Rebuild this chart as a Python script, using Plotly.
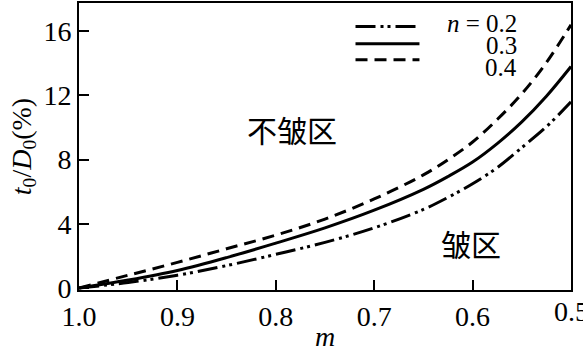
import plotly.graph_objects as go

m_vals = [1.0, 0.95, 0.9, 0.85, 0.8, 0.75, 0.7, 0.65, 0.625, 0.6, 0.575, 0.55, 0.525, 0.5]
t_n02 = [0.0, 0.35, 0.8, 1.4, 2.1, 2.85, 3.75, 4.9, 5.65, 6.5, 7.5, 8.75, 10.05, 11.6]
t_n03 = [0.0, 0.5, 1.1, 1.9, 2.8, 3.75, 4.85, 6.15, 6.95, 7.85, 9.0, 10.35, 11.95, 13.8]
t_n04 = [0.0, 0.8, 1.6, 2.45, 3.3, 4.3, 5.55, 7.05, 8.0, 9.1, 10.5, 12.1, 14.05, 16.4]
n_labels = ["<i>n</i> = 0.2", "0.3", "0.4"]
y_ticks = [0, 4, 8, 12, 16]
x_ticks = [1.0, 0.9, 0.8, 0.7, 0.6, 0.5]
x_ticktext = ["1.0", "0.9", "0.8", "0.7", "0.6", ""]

FONT = "Liberation Serif"
CJK = "Noto Sans CJK SC"
FS = 28
dashes = ["20px,5px,3px,4px,3px,5px", "solid", "12px,7px"]
series = [t_n02, t_n03, t_n04]

fig = go.Figure()
for ys, d in zip(series, dashes):
    fig.add_trace(go.Scatter(x=m_vals, y=ys, mode="lines", line_shape="spline",
                             line=dict(color="black", width=3, dash=d),
                             showlegend=False, hoverinfo="skip"))

# legend (drawn to match reference layout)
leg_y = [0.918, 0.858, 0.802]
for yy, d in zip(leg_y, dashes):
    fig.add_shape(type="line", xref="paper", yref="paper",
                  x0=0.562, x1=0.692, y0=yy, y1=yy,
                  line=dict(color="black", width=3, dash=d))
txt_y = [0.93, 0.852, 0.774]
for yy, t in zip(txt_y, n_labels):
    fig.add_annotation(x=0.895, y=yy, xref="paper", yref="paper", text=t,
                       showarrow=False, xanchor="right", yanchor="middle",
                       font=dict(family=FONT, size=25, color="black"))

fig.add_annotation(x=0.432, y=0.56, xref="paper", yref="paper", text="不皱区",
                   showarrow=False, xanchor="center", yanchor="middle",
                   font=dict(family=CJK, size=30, color="black"))
fig.add_annotation(x=0.796, y=0.165, xref="paper", yref="paper", text="皱区",
                   showarrow=False, xanchor="center", yanchor="middle",
                   font=dict(family=CJK, size=30, color="black"))
# last x tick label, placed so it is clipped by the page edge as in the reference
fig.add_annotation(x=0.5, y=0, xref="x", yref="paper", text="0.5", yshift=-4,
                   showarrow=False, xanchor="center", yanchor="top",
                   font=dict(family=FONT, size=FS, color="black"))

tickfont = dict(family=FONT, size=FS, color="black")
fig.update_layout(
    width=583, height=352,
    margin=dict(l=79, r=12, t=1, b=58),
    plot_bgcolor="white", paper_bgcolor="white",
    font=dict(family=FONT, size=FS, color="black"),
    xaxis=dict(range=[1.0, 0.5], tickvals=x_ticks, ticktext=x_ticktext,
               tickfont=tickfont,
               ticks="inside", ticklen=10, tickwidth=1.5, tickcolor="black",
               showline=True, linewidth=2, linecolor="black", mirror=True,
               showgrid=False, zeroline=False,
               title=dict(text="<i>m</i>", standoff=0,
                          font=dict(family=FONT, size=FS))),
    yaxis=dict(range=[-0.12, 17.76], tickvals=y_ticks, tickfont=tickfont,
               ticks="inside", ticklen=10, tickwidth=1.5, tickcolor="black",
               showline=True, linewidth=2, linecolor="black", mirror=True,
               showgrid=False, zeroline=False,
               title=dict(text="<i>t</i><sub>0</sub>/<i>D</i><sub>0</sub>(%)",
                          standoff=4, font=dict(family=FONT, size=FS))),
)

fig.write_html("out.html")
